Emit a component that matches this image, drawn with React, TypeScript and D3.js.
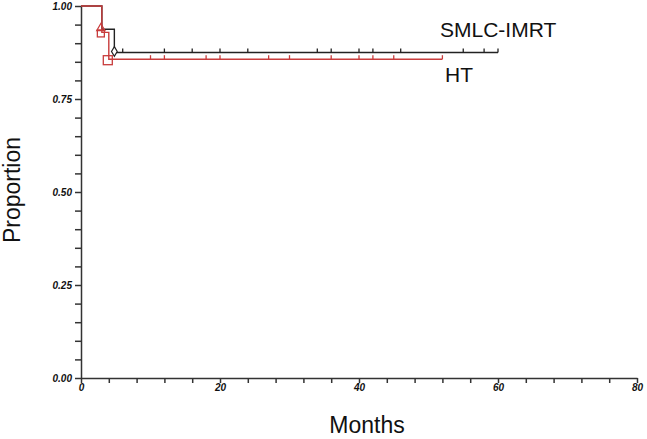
import * as d3 from "d3";
import { useEffect, useRef } from "react";

const width = 647;
const height = 439;

// Kaplan-Meier steps: time (months) and survival proportion
const smlcTimes = [0, 3, 4.8];
const smlcSurv = [1, 0.9375, 0.875];
const smlcEnd = 60;
const smlcCensored = [6, 12, 16, 20, 24, 34, 36, 40, 42, 46, 55, 58, 60];

const htTimes = [0, 3, 4];
const htSurv = [1, 0.929, 0.857];
const htEnd = 52;
const htCensored = [10, 12, 18, 20, 27, 30, 36, 40, 42, 45, 52];

const yTicks = d3.range(0, 1.0001, 0.05);
const xTicks = d3.range(0, 80.001, 4);

const blackColor = "#222";
const redColor = "#c83c3c";

function App() {
  const svgRef = useRef<SVGSVGElement | null>(null);

  useEffect(() => {
    const svg = d3.select(svgRef.current);
    svg.selectAll("*").remove();

    const x = d3.scaleLinear().domain([0, 80]).range([81, 637]);
    const y = d3.scaleLinear().domain([0, 1]).range([378, 6]);
    const font = "'Liberation Sans', Arial, sans-serif";

    const yAxis = svg
      .append("g")
      .attr("transform", "translate(81,0)")
      .call(
        d3
          .axisLeft(y)
          .tickValues(yTicks)
          .tickSize(6)
          .tickSizeOuter(0)
          .tickFormat((d) =>
            Math.abs(((d as number) * 100) % 25) < 0.01 ? d3.format(".2f")(d as number) : ""
          )
      );
    yAxis.selectAll("path, line").attr("stroke", "#333").attr("stroke-width", 1.5);
    yAxis
      .selectAll("text")
      .attr("fill", "#111")
      .style("font-family", font)
      .style("font-style", "italic")
      .style("font-weight", "bold")
      .style("font-size", "10px")
      .attr("x", -9);

    const xAxis = svg
      .append("g")
      .attr("transform", "translate(0,378)")
      .call(
        d3
          .axisBottom(x)
          .tickValues(xTicks)
          .tickSize(5)
          .tickSizeOuter(0)
          .tickFormat((d) => ((d as number) % 20 === 0 ? String(d) : ""))
      );
    xAxis.selectAll("path, line").attr("stroke", "#333").attr("stroke-width", 1.5);
    xAxis
      .selectAll("text")
      .attr("fill", "#111")
      .style("font-family", font)
      .style("font-style", "italic")
      .style("font-weight", "bold")
      .style("font-size", "10px")
      .attr("y", 6);

    const drawCurve = (
      times: number[],
      surv: number[],
      end: number,
      censored: number[],
      color: string
    ) => {
      const pts: [number, number][] = times.map((t, i) => [t, surv[i]]);
      pts.push([end, surv[surv.length - 1]]);
      const line = d3
        .line<[number, number]>()
        .x((d) => x(d[0]))
        .y((d) => y(d[1]))
        .curve(d3.curveStepAfter);
      svg
        .append("path")
        .attr("d", line(pts))
        .attr("fill", "none")
        .attr("stroke", color)
        .attr("stroke-width", 1.4);

      const survAt = (t: number) => {
        let s = 1;
        times.forEach((tt, i) => {
          if (tt <= t) s = surv[i];
        });
        return s;
      };
      svg
        .append("g")
        .selectAll("line")
        .data(censored)
        .join("line")
        .attr("x1", (d) => x(d))
        .attr("x2", (d) => x(d))
        .attr("y1", (d) => y(survAt(d)))
        .attr("y2", (d) => y(survAt(d)) - 4)
        .attr("stroke", color)
        .attr("stroke-width", 1.3);
    };

    drawCurve(smlcTimes, smlcSurv, smlcEnd, smlcCensored, blackColor);
    drawCurve(htTimes, htSurv, htEnd, htCensored, redColor);

    // event markers
    const redSquares = [
      { t: htTimes[1], s: htSurv[1], size: 7 },
      { t: htTimes[2], s: htSurv[2], size: 9 },
    ];
    svg
      .append("g")
      .selectAll("rect")
      .data(redSquares)
      .join("rect")
      .attr("x", (d) => x(d.t) - d.size / 2 - 1)
      .attr("y", (d) => y(d.s) - d.size / 2 + 1)
      .attr("width", (d) => d.size)
      .attr("height", (d) => d.size)
      .attr("fill", "none")
      .attr("stroke", redColor)
      .attr("stroke-width", 1.3);

    const tri = d3.symbol().type(d3.symbolTriangle).size(30);
    svg
      .append("path")
      .attr("d", tri())
      .attr("transform", `translate(${x(smlcTimes[1]) - 1},${y(smlcSurv[1]) - 1})`)
      .attr("fill", "none")
      .attr("stroke", redColor)
      .attr("stroke-width", 1.2);

    const dia = d3.symbol().type(d3.symbolDiamond).size(28);
    svg
      .append("path")
      .attr("d", dia())
      .attr("transform", `translate(${x(smlcTimes[2])},${y(smlcSurv[2]) - 1})`)
      .attr("fill", "white")
      .attr("stroke", blackColor)
      .attr("stroke-width", 1.2);

    // labels
    svg
      .append("text")
      .attr("x", 440)
      .attr("y", 37)
      .text("SMLC-IMRT")
      .style("font-family", font)
      .style("font-size", "21px")
      .attr("fill", "#111");
    svg
      .append("text")
      .attr("x", 445)
      .attr("y", 82)
      .text("HT")
      .style("font-family", font)
      .style("font-size", "21px")
      .attr("fill", "#111");

    svg
      .append("text")
      .attr("x", 367)
      .attr("y", 433)
      .attr("text-anchor", "middle")
      .text("Months")
      .style("font-family", font)
      .style("font-size", "23px")
      .attr("fill", "#111");
    svg
      .append("text")
      .attr("transform", "translate(20,190) rotate(-90)")
      .attr("text-anchor", "middle")
      .text("Proportion")
      .style("font-family", font)
      .style("font-size", "23px")
      .attr("fill", "#111");
  }, []);

  return (
    <svg
      ref={svgRef}
      width={width}
      height={height}
      style={{ position: "absolute", left: 0, top: 0, background: "white" }}
    />
  );
}

export default App;
